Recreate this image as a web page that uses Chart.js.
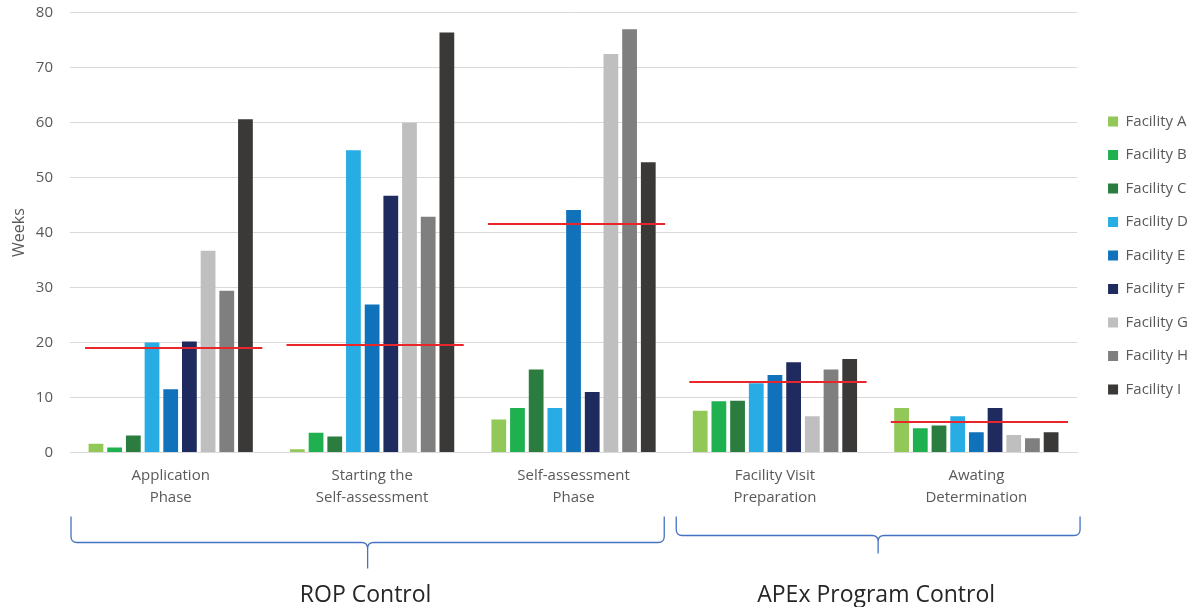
<!DOCTYPE html>
<html>
<head>
<meta charset="utf-8">
<script src="https://cdn.jsdelivr.net/npm/chart.js@4.4.1/dist/chart.umd.min.js"></script>
<style>
  html, body { margin: 0; padding: 0; background: #fff; }
  #wrap { width: 1197px; height: 607px; }
</style>
</head>
<body>
<div id="wrap"><canvas id="chart"></canvas></div>
<script>
// categories (two-line labels, typo kept as in the source)
const phases = [
  ['Application', 'Phase'],
  ['Starting the', 'Self-assessment'],
  ['Self-assessment', 'Phase'],
  ['Facility Visit', 'Preparation'],
  ['Awating', 'Determination']
]

// weeks per facility, one value per phase
const facilityA = [1.6, 0.6, 6.0, 7.6, 8.1]
const facilityB = [0.9, 3.6, 8.1, 9.3, 4.4]
const facilityC = [3.1, 2.9, 15.1, 9.4, 4.9]
const facilityD = [20.0, 55.0, 8.1, 12.6, 6.6]
const facilityE = [11.5, 26.9, 44.1, 14.1, 3.7]
const facilityF = [20.2, 46.7, 11.0, 16.4, 8.1]
const facilityG = [36.7, 60.0, 72.5, 6.6, 3.2]
const facilityH = [29.4, 42.9, 77.0, 15.1, 2.6]
const facilityI = [60.6, 76.4, 52.8, 17.0, 3.7]

// red average line per phase
const averages = [19.0, 19.5, 41.5, 12.8, 5.5]

// y axis
const yMin = 0
const yMax = 80
const yStep = 10

// brackets under the axis
const groupNames = ['ROP Control', 'APEx Program Control']
const groupFirst = [0, 3]
const groupLast = [2, 4]

Chart.defaults.font.family = "'Open Sans', sans-serif"

const facilities = [
  {label: 'Facility A', data: facilityA, color: '#92c857'},
  {label: 'Facility B', data: facilityB, color: '#1fb04f'},
  {label: 'Facility C', data: facilityC, color: '#2a7d3e'},
  {label: 'Facility D', data: facilityD, color: '#27ade3'},
  {label: 'Facility E', data: facilityE, color: '#1072ba'},
  {label: 'Facility F', data: facilityF, color: '#1f2a5e'},
  {label: 'Facility G', data: facilityG, color: '#bfbfbf'},
  {label: 'Facility H', data: facilityH, color: '#7f7f7f'},
  {label: 'Facility I', data: facilityI, color: '#3a3937'}
]

const averageLines = {
  id: 'averageLines',
  afterDatasetsDraw(chart) {
    const {ctx, scales: {x, y}} = chart
    const half = (x.getPixelForValue(1) - x.getPixelForValue(0)) * 0.44
    ctx.save()
    ctx.strokeStyle = '#e8262b'
    ctx.lineWidth = 2
    averages.forEach((v, i) => {
      const cx = x.getPixelForValue(i) + 3
      const py = Math.round(y.getPixelForValue(v))
      ctx.beginPath()
      ctx.moveTo(cx - half, py)
      ctx.lineTo(cx + half, py)
      ctx.stroke()
    })
    ctx.restore()
  }
}

const drawBrace = (ctx, x1, x2, top, mid, tip) => {
  const r = 6
  const cx = (x1 + x2) / 2
  ctx.beginPath()
  ctx.moveTo(x1, top)
  ctx.lineTo(x1, mid - r)
  ctx.quadraticCurveTo(x1, mid, x1 + r, mid)
  ctx.lineTo(cx - r, mid)
  ctx.quadraticCurveTo(cx, mid, cx, mid + r)
  ctx.lineTo(cx, tip)
  ctx.moveTo(cx, mid + r)
  ctx.quadraticCurveTo(cx, mid, cx + r, mid)
  ctx.lineTo(x2 - r, mid)
  ctx.quadraticCurveTo(x2, mid, x2, mid - r)
  ctx.lineTo(x2, top)
  ctx.stroke()
}

const groupBraces = {
  id: 'groupBraces',
  afterDraw(chart) {
    const {ctx, chartArea, scales: {x}} = chart
    const step = x.getPixelForValue(1) - x.getPixelForValue(0)
    const top = chartArea.bottom + 64
    const depth = [26, 19]
    const tips = [52, 37]
    const insetL = [-1, -2]
    const insetR = [10, -3]
    ctx.save()
    ctx.strokeStyle = '#4472c4'
    ctx.lineWidth = 1.3
    ctx.fillStyle = '#262626'
    ctx.font = "23px 'Open Sans', sans-serif"
    ctx.textAlign = 'center'
    ctx.textBaseline = 'alphabetic'
    groupNames.forEach((name, g) => {
      const x1 = x.getPixelForValue(groupFirst[g]) - step / 2 - insetL[g]
      const x2 = x.getPixelForValue(groupLast[g]) + step / 2 - insetR[g]
      drawBrace(ctx, x1, x2, top, top + depth[g], top + tips[g])
      ctx.fillText(name, (x1 + x2) / 2 - 2, chartArea.bottom + 149)
    })
    ctx.restore()
  }
}

new Chart(document.getElementById('chart'), {
  type: 'bar',
  data: {
    labels: phases,
    datasets: facilities.map(f => ({
      label: f.label,
      data: f.data,
      backgroundColor: f.color
    }))
  },
  options: {
    responsive: true,
    maintainAspectRatio: false,
    animation: false,
    events: [],
    layout: {padding: {top: 0, left: 10, right: -1, bottom: 96}},
    datasets: {bar: {categoryPercentage: 0.835, barPercentage: 0.79}},
    plugins: {
      legend: {
        position: 'right',
        labels: {boxWidth: 10, boxHeight: 10, padding: 18.5, color: '#595959', font: {size: 15}}
      },
      tooltip: {enabled: false}
    },
    scales: {
      x: {
        grid: {display: false, drawTicks: false},
        border: {color: '#d9d9d9'},
        ticks: {color: '#595959', padding: 12.5, font: {size: 15, lineHeight: 1.44}},
        afterFit(scale) { scale.height = 58.5 }
      },
      y: {
        min: yMin,
        max: yMax,
        ticks: {stepSize: yStep, padding: 17, color: '#595959', font: {size: 15}},
        grid: {color: '#d9d9d9', drawTicks: false},
        border: {display: false},
        title: {display: true, text: 'Weeks', color: '#595959', font: {size: 16}, padding: {top: 0, bottom: 8}},
        afterFit(scale) {
          scale.width = 60
          scale.paddingTop = 12.7
          scale.paddingBottom = 0
        }
      },
      // empty strip that keeps the legend clear of the plot
      spacer: {
        position: 'right',
        display: true,
        grid: {display: false},
        ticks: {display: false},
        border: {display: false},
        afterFit(scale) { scale.width = 12.5 }
      }
    }
  },
  plugins: [averageLines, groupBraces]
})
</script>
</body>
</html>
